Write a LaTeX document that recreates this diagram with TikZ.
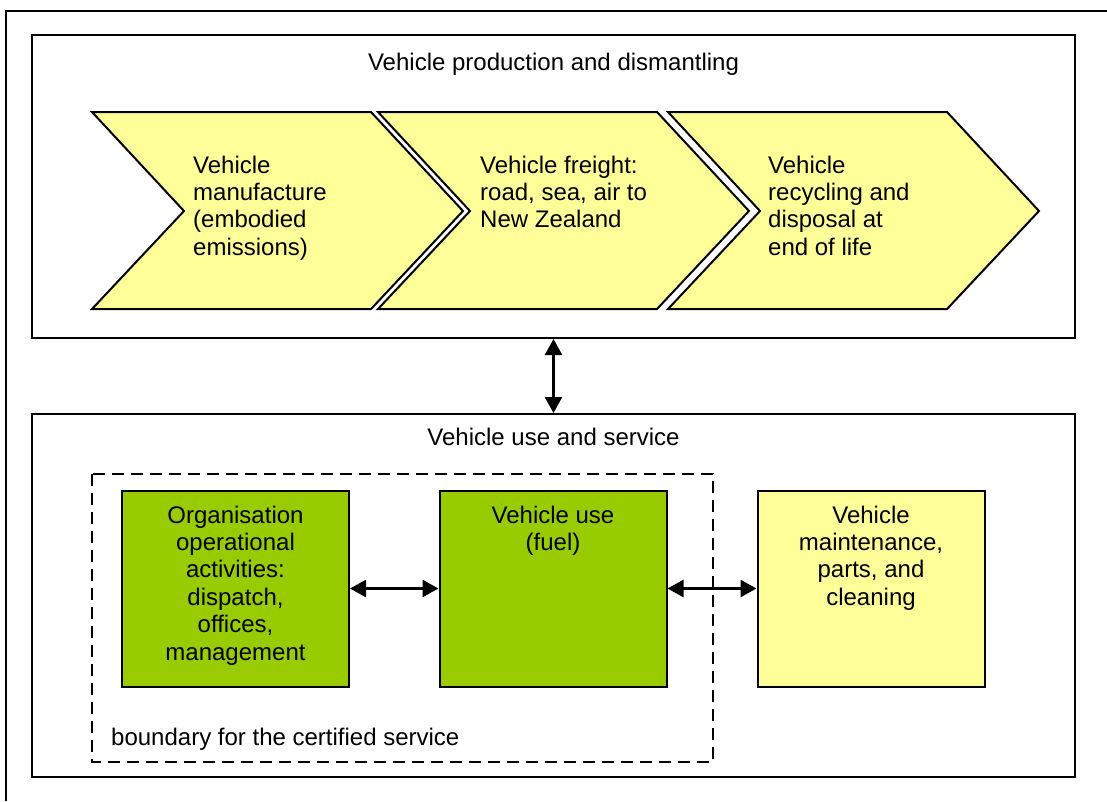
\documentclass[tikz,border=0pt]{standalone}
\usepackage{fontspec}
\setmainfont{Liberation Sans}
\usetikzlibrary{arrows.meta}

\definecolor{chevyellow}{HTML}{FFFF99}
\definecolor{usegreen}{HTML}{99CC00}

\tikzset{
  bigfont/.style={font=\fontsize{24}{27.4}\selectfont},
  frame/.style={draw, line width=2pt, inner sep=0pt},
  chev/.style={draw, fill=chevyellow, line width=2pt, line join=miter},
  chevtext/.style={bigfont, anchor=base west, align=left, inner sep=0pt},
  box/.style={draw, line width=2pt, minimum width=227pt, minimum height=196pt, inner sep=0pt},
  boxtext/.style={bigfont, anchor=base, align=center, inner sep=0pt},
  dbl/.style={{Triangle[length=16pt,width=17pt]}-{Triangle[length=16pt,width=17pt]}, line width=2.5pt}
}

\begin{document}
\begin{tikzpicture}[x=1pt, y=-1pt]
\useasboundingbox (0,0) rectangle (1107,801);

% outer frame (cut at right and bottom)
\draw[line width=2pt] (1107,10.5) -- (6,10.5) -- (6,801);

% production and dismantling
\node[frame, minimum width=1043pt, minimum height=303pt] (prod) at (553.5,186.5) {};
\node[bigfont, anchor=base] (prodtitle) at (553.5,70) {Vehicle production and dismantling};
\foreach \x in {92,378,668}
  \draw[chev] (\x,112) -- ++(279,0) -- ++(92,99) -- ++(-92,98) -- ++(-279,0) -- ++(92,-98) -- cycle;
% base = last line
\node[chevtext] (manu) at (193,255.2) {Vehicle\\manufacture\\(embodied\\emissions)};
\node[chevtext] (freight) at (480,227.8) {Vehicle freight:\\road, sea, air to\\New Zealand};
\node[chevtext] (recyc) at (768,255.2) {Vehicle\\recycling and\\disposal at\\end of life};

% use and service
\node[frame, minimum width=1043pt, minimum height=363pt] (serv) at (553.5,595.5) {};
\node[bigfont, anchor=base] (servtitle) at (553.5,445) {Vehicle use and service};
\draw[line width=1.5pt, dash pattern=on 12pt off 7pt] (92,474) rectangle (713,762);
\node[bigfont, anchor=base west, inner sep=0pt] (bound) at (111,745) {boundary for the certified service};

\node[box, fill=usegreen] (org) at (235.5,588.5) {};
\node[box, fill=usegreen] (use) at (553,588.5) {};
\node[box, fill=chevyellow] (maint) at (871,588.5) {};
\node[boxtext] (orgtext) at (235.5,660) {Organisation\\operational\\activities:\\dispatch,\\offices,\\management};
\node[boxtext] (usetext) at (553,550.4) {Vehicle use\\(fuel)};
\node[boxtext] (mainttext) at (871,605.2) {Vehicle\\maintenance,\\parts, and\\cleaning};

% connectors
\draw[dbl] (prod.south) -- (serv.north);
\draw[dbl] (org) -- (use);
\draw[dbl] (use) -- (maint);
\end{tikzpicture}
\end{document}
